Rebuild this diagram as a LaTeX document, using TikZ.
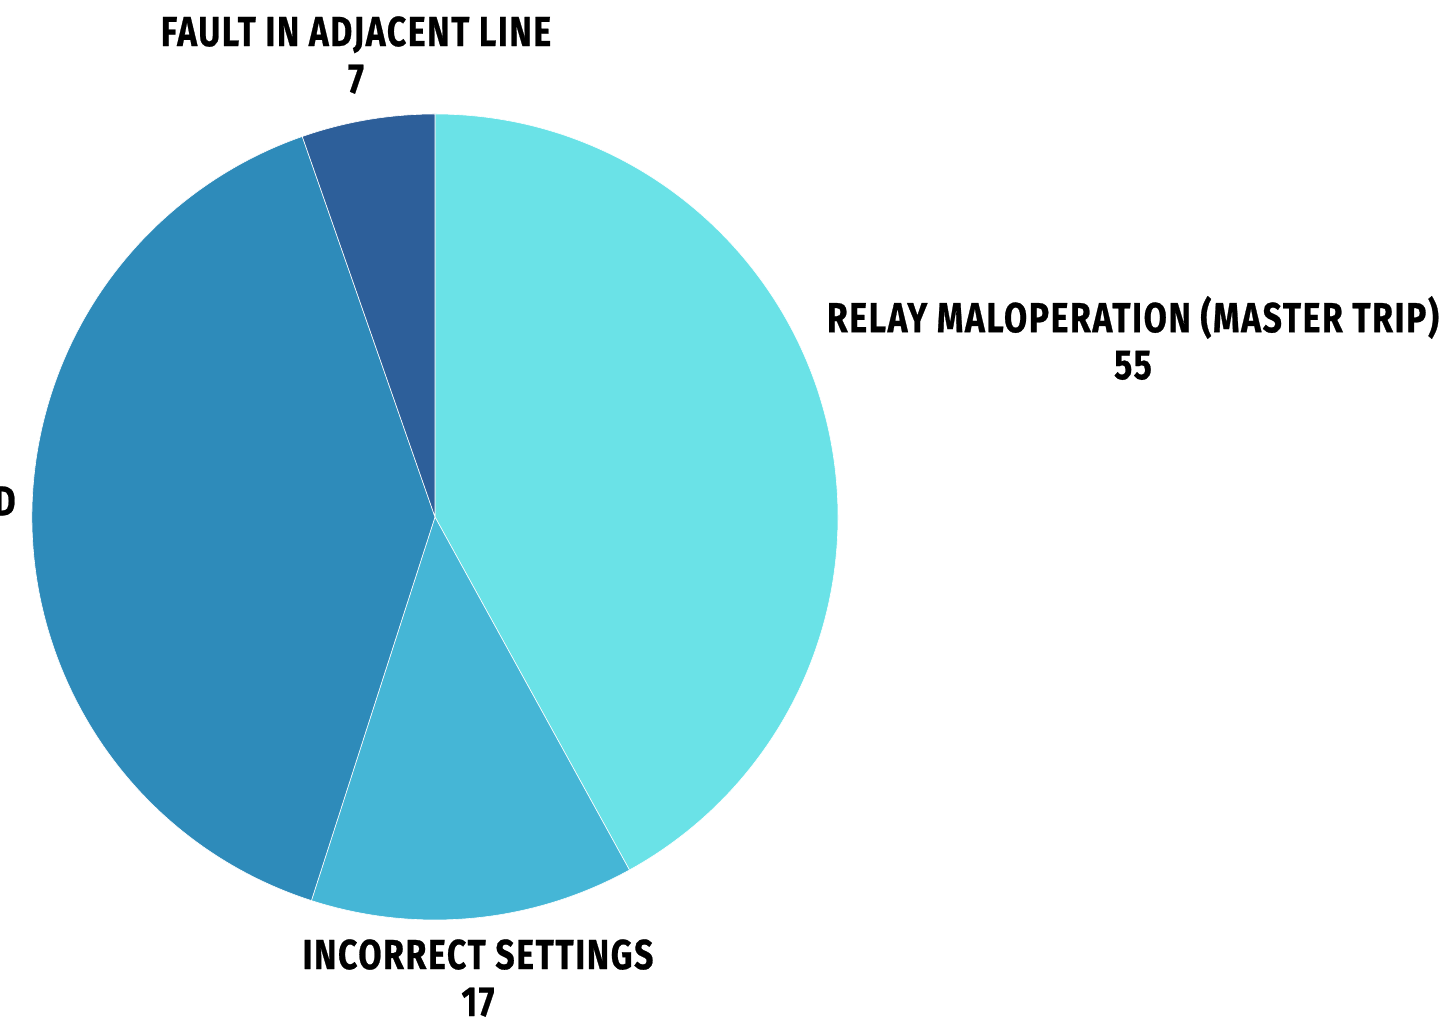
\documentclass[tikz,border=0pt]{standalone}
\usepackage{fontspec}
\setmainfont{Fira Sans}[FakeStretch=0.80,LetterSpace=4,BoldFont={Fira Sans Bold},BoldFeatures={FakeBold=0.6}]
\definecolor{relay}{HTML}{6AE2E7}
\definecolor{incorr}{HTML}{45B6D6}
\definecolor{leftsl}{HTML}{2E8BBA}
\definecolor{fault}{HTML}{2D5F9A}
\begin{document}
\begin{tikzpicture}[x=0.5pt,y=0.5pt,
  slice/.style={draw=white,line width=0.3pt},
  lbl/.style={align=center,inner sep=0pt,font=\fontsize{21}{23.5}\selectfont\bfseries}]
\useasboundingbox (0,0) rectangle (1449,1027);
\coordinate (c) at (435,510);
\def\R{403}
\fill[relay,slice] (c) -- ++(90:\R) arc[start angle=90,end angle=-61.15,radius=\R] -- cycle;
\fill[incorr,slice] (c) -- ++(-61.15:\R) arc[start angle=-61.15,end angle=-107.86,radius=\R] -- cycle;
\fill[leftsl,slice] (c) -- ++(-107.86:\R) arc[start angle=-107.86,end angle=-250.77,radius=\R] -- cycle;
\fill[fault,slice] (c) -- ++(109.23:\R) arc[start angle=109.23,end angle=90,radius=\R] -- cycle;
\node[lbl] (lfault) at (356,972) {FAULT IN ADJACENT LINE\\7};
\node[lbl] (lrelay) at (1133,689) {RELAY MALOPERATION (MASTER TRIP)\\55};
\node[lbl] (lincorr) at (478,49) {INCORRECT SETTINGS\\17};
\node[lbl,anchor=east] (lleft) at (16,526) {D};
\end{tikzpicture}
\end{document}
